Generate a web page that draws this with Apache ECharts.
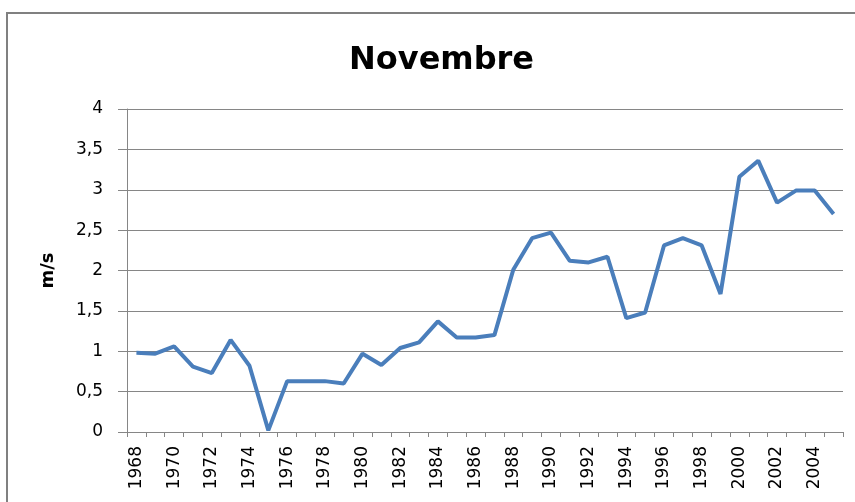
<!DOCTYPE html>
<html><head><meta charset="utf-8">
<script src="https://cdn.jsdelivr.net/npm/echarts@6/dist/echarts.min.js"></script>
<style>html,body{margin:0;padding:0;background:#fff}#c{width:855px;height:502px}</style>
</head><body><div id="c"></div>
<script>
const years = [];
for (let y = 1968; y <= 2005; y++) years.push(String(y));
const values = [0.98,0.97,1.06,0.81,0.73,1.14,0.82,0.02,0.63,0.63,0.63,0.60,0.97,0.83,1.04,1.11,1.37,1.17,1.17,1.20,2.01,2.40,2.47,2.12,2.10,2.17,1.41,1.48,2.31,2.40,2.31,1.71,3.16,3.36,2.84,2.99,2.99,2.70];
const yTicks = [0,0.5,1,1.5,2,2.5,3,3.5,4];

const chart = echarts.init(document.getElementById('c'));
chart.setOption({
  animation:false,
  title:{text:'Novembre',left:344,top:40,textStyle:{fontFamily:'DejaVu Sans',fontWeight:'bold',fontSize:32,color:'#000'}},
  graphic:[{type:'rect',shape:{x:7,y:13,width:900,height:600},style:{fill:'none',stroke:'#808080',lineWidth:2}}],
  grid:{left:127,right:12,top:109,bottom:70},
  xAxis:{type:'category',data:years,boundaryGap:true,
    axisLine:{lineStyle:{color:'#868686',width:1}},
    axisTick:{show:true,interval:0,length:5,lineStyle:{color:'#868686'}},
    axisLabel:{interval:1,rotate:90,fontFamily:'DejaVu Sans',fontSize:17,color:'#000',margin:14}},
  yAxis:{type:'value',min:yTicks[0],max:yTicks[yTicks.length-1],interval:0.5,
    name:'m/s',nameLocation:'middle',nameGap:70,nameTextStyle:{fontFamily:'DejaVu Sans',fontWeight:'bold',fontSize:18,color:'#000'},
    axisLine:{show:true,lineStyle:{color:'#868686'}},
    axisTick:{show:true,length:9,lineStyle:{color:'#868686'}},
    splitLine:{lineStyle:{color:'#868686',width:1}},
    axisLabel:{fontFamily:'DejaVu Sans',fontSize:17,color:'#000',margin:24,
      formatter:v=>String(v).replace('.',',')}},
  series:[{type:'line',data:values,symbol:'none',lineStyle:{color:'#4A7EBB',width:4}}]
});
</script></body></html>
